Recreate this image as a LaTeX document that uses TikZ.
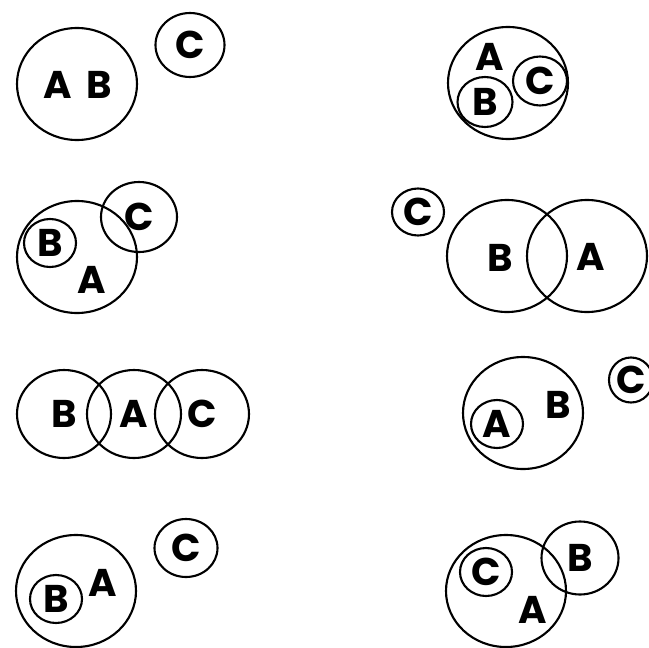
\documentclass[tikz,border=0pt]{standalone}
\usepackage{fontspec}
\setmainfont{Poppins}
\usepackage{tikz}
\usetikzlibrary{shapes.geometric}

\begin{document}
\begin{tikzpicture}[
    x=0.03cm, y=-0.03cm,
    letter/.style={font=\bfseries\fontsize{33}{33}\selectfont, inner sep=0pt},
    ring/.style={letter, draw=black, ellipse, line width=1.8pt},
    big/.style={ring, minimum width=3.6cm, minimum height=3.36cm},
    small/.style={ring, minimum width=1.56cm, minimum height=1.44cm},
    trio/.style={ring, minimum width=2.82cm, minimum height=2.64cm}
]
\useasboundingbox (0,0) rectangle (649,647);

%% --- Panou 1: A B, C separat ---
\node[big] (p1big) at (77,84) {};
\node[letter] (p1a) at (58,85) {A};
\node[letter] (p1b) at (99,85) {B};
\node[ring, minimum width=2.07cm, minimum height=1.92cm] (p1c) at (190,45) {C};

%% --- Panou 2: B in A, C intersecteaza A ---
\node[big] (p2big) at (77,257) {};
\node[small] (p2b) at (50,243) {B};
\node[letter] (p2a) at (92,280) {A};
\node[ring, minimum width=2.28cm, minimum height=2.1cm] (p2c) at (139,217) {C};

%% --- Panou 3: B si C in A ---
\node[big] (p3big) at (508,83) {};
\node[letter] (p3a) at (490,57) {A};
\node[small, minimum width=1.65cm, minimum height=1.5cm] (p3b) at (485,102) {B};
\node[small, minimum width=1.62cm, minimum height=1.47cm] (p3c) at (540,81) {C};

%% --- Panou 4: B si A se intersecteaza, C separat ---
\node[small, minimum height=1.41cm] (p4c) at (418,212) {C};
\node[big] (p4b) at (507,256) {};
\node[letter] (p4bl) at (500,258) {B};
\node[big] (p4a) at (587,256) {};
\node[letter] (p4al) at (591,257) {A};

%% --- Panou 5: B, A, C in lant ---
\node[trio] (p5b) at (64,414) {B};
\node[trio] (p5a) at (134,414) {A};
\node[trio] (p5c) at (202,414) {C};

%% --- Panou 6: B in A, C separat ---
\node[big] (p6big) at (76,591) {};
\node[small] (p6b) at (56,599) {B};
\node[letter] (p6a) at (103,583) {A};
\node[ring, minimum width=1.89cm, minimum height=1.74cm] (p6c) at (186,548) {C};

%% --- Panou 7: A in B, C separat ---
\node[big] (p7big) at (523,413) {};
\node[letter] (p7b) at (558,405) {B};
\node[small] (p7a) at (497,424) {A};
\node[ring, minimum width=1.32cm, minimum height=1.35cm] (p7c) at (631,380) {C};

%% --- Panou 8: C in A, B intersecteaza A ---
\node[big] (p8big) at (506,591) {};
\node[small] (p8c) at (486,572) {C};
\node[letter] (p8a) at (533,610) {A};
\node[ring, minimum width=2.31cm, minimum height=2.19cm] (p8b) at (580,558) {B};

\end{tikzpicture}
\end{document}
